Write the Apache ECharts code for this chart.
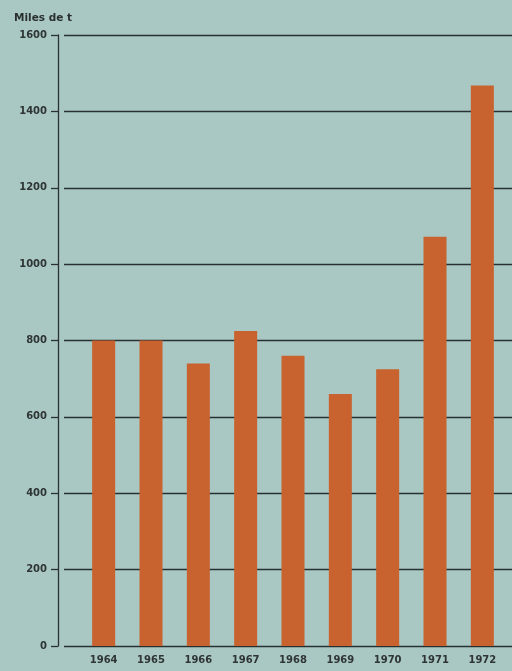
<!DOCTYPE html>
<html><head><meta charset="utf-8">
<script src="https://cdn.jsdelivr.net/npm/echarts@6/dist/echarts.min.js"></script>
<style>html,body{margin:0;padding:0;background:#a9c8c4}#c{width:512px;height:671px}</style>
</head><body><div id="c"></div>
<script>
var years = ['1964','1965','1966','1967','1968','1969','1970','1971','1972'];
var values = [800, 800, 740, 825, 760, 660, 725, 1072, 1468];
var yTicks = [0, 200, 400, 600, 800, 1000, 1200, 1400, 1600];

var chart = echarts.init(document.getElementById('c'), null, {renderer:'canvas'});
var font = '"DejaVu Sans", sans-serif';
var yMin = yTicks[0], yMax = yTicks[yTicks.length-1];
chart.setOption({
  backgroundColor: '#a9c8c4',
  animation: false,
  title: {text: 'Miles de t', left: 9, top: 8, textStyle: {fontFamily: font, fontSize: 10.5, fontWeight: 'bold', color: '#2a3030'}},
  grid: [
    {left: 58, right: 0, top: 35, bottom: 25},
    {left: 80, right: 6, top: 35, bottom: 25},
    {left: 64, right: 0, top: 35, bottom: 25}
  ],
  xAxis: [
    {gridIndex: 0, type: 'value', show: false, min: 0, max: 1},
    {gridIndex: 1, type: 'category', data: years,
     axisLine: {show: false}, axisTick: {show: false},
     axisLabel: {margin: 9, fontFamily: font, fontSize: 10, fontWeight: 'bold', color: '#2f3535'}},
    {gridIndex: 2, type: 'value', show: false, min: 0, max: 1}
  ],
  yAxis: [
    {gridIndex: 0, type: 'value', min: yMin, max: yMax, interval: 200,
     axisLine: {show: true, lineStyle: {color: '#2b3030', width: 1.3}},
     axisTick: {show: true, length: 7, lineStyle: {color: '#2b3030', width: 1.3}},
     axisLabel: {margin: 11, fontFamily: font, fontSize: 10, fontWeight: 'bold', color: '#2f3535',
                 formatter: function(v){ return String(v); }},
     splitLine: {show: false}},
    {gridIndex: 1, type: 'value', min: yMin, max: yMax, show: false, splitLine: {show: false}},
    {gridIndex: 2, type: 'value', min: yMin, max: yMax, interval: 200,
     axisLine: {show: false}, axisTick: {show: false}, axisLabel: {show: false},
     splitLine: {show: true, lineStyle: {color: '#283030', width: 1.3}}}
  ],
  series: [{
    type: 'bar', xAxisIndex: 1, yAxisIndex: 1, data: values, barWidth: 23,
    itemStyle: {color: '#c8622e'}
  }]
});
</script></body></html>
